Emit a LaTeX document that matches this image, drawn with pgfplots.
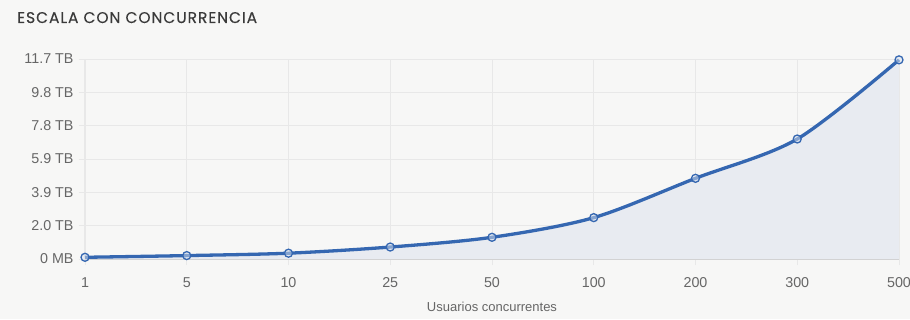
\documentclass[border=0pt]{standalone}
\usepackage{pgfplots}
\pgfplotsset{compat=1.18}
\usepackage{fontspec}
\setmainfont{Liberation Sans}
\newfontfamily\titlefont[LetterSpace=6,FakeBold=0.2]{Poppins}
\definecolor{bg}{HTML}{F7F7F6}
\definecolor{linec}{HTML}{3567B1}
\definecolor{fillc}{HTML}{E8EBF1}
\definecolor{gridc}{HTML}{E8E8E8}
\definecolor{axc}{HTML}{CFCFCF}
\definecolor{tickc}{HTML}{666666}
\definecolor{titlec}{HTML}{3A3A3A}
\begin{document}
\begin{tikzpicture}[x=1pt,y=1pt]
\fill[bg] (0,0) rectangle (910,319);
\useasboundingbox (0,0) rectangle (910,319);
\node[anchor=base west, inner sep=0, text=titlec, font=\titlefont\fontsize{15.5}{15.5}\selectfont] at (17,296) {ESCALA CON CONCURRENCIA};
\begin{axis}[
  at={(85pt,60pt)}, anchor=south west,
  scale only axis, width=814pt, height=200pt,
  xmin=0, xmax=8, ymin=0, ymax=11.7,
  xtick={0,...,8},
  xticklabels={1,5,10,25,50,100,200,300,500},
  ytick={0,1.95,3.9,5.85,7.8,9.75,11.7},
  yticklabels={0 MB,2.0 TB,3.9 TB,5.9 TB,7.8 TB,9.8 TB,11.7 TB},
  axis x line*=bottom, axis y line*=left,
  x axis line style={axc, line width=1pt, -},
  y axis line style={gridc, line width=1pt, -},
  grid=major,
  major grid style={gridc, line width=0.8pt},
  tick align=outside,
  major tick length=6pt,
  tick style={gridc, line width=0.8pt},
  ticklabel style={text=tickc, font=\fontsize{14.3}{14.3}\selectfont},
  xticklabel style={yshift=-9pt},
  yticklabel style={xshift=-2pt},
  xlabel={Usuarios concurrentes},
  xlabel style={text=tickc, font=\fontsize{13}{13}\selectfont, yshift=-8pt},
  clip=false,
]
\addplot[draw=none, fill=fillc, smooth, tension=0.5] coordinates {
(0,0.10) (1,0.20) (2,0.34) (3,0.70) (4,1.27) (5,2.42) (6,4.72) (7,7.02) (8,11.65)
} \closedcycle;
\addplot[linec, line width=3.3pt, smooth, tension=0.5,
  mark=*, mark size=4pt, mark options={draw=linec, line width=1.3pt, fill=linec!20!white, fill opacity=0.5}] coordinates {
(0,0.10) (1,0.20) (2,0.34) (3,0.70) (4,1.27) (5,2.42) (6,4.72) (7,7.02) (8,11.65)
};
\end{axis}
\end{tikzpicture}
\end{document}
